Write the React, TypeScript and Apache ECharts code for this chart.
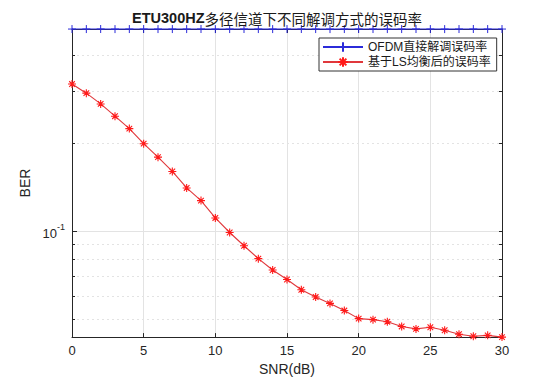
import React, { useEffect, useRef } from "react";
import * as echarts from "echarts";

const snr: number[] = Array.from({ length: 31 }, (_, i) => i);
const ofdmBer: number[] = [
  0.49, 0.49, 0.4902, 0.4898, 0.49, 0.4901, 0.4899, 0.49, 0.49, 0.4902, 0.4898,
  0.49, 0.4901, 0.49, 0.4899, 0.49, 0.4902, 0.49, 0.4898, 0.49, 0.4901,
  0.49, 0.4899, 0.49, 0.4901, 0.49, 0.4898, 0.49, 0.4902, 0.49, 0.49,
];
const lsBer: number[] = [
  0.318, 0.296, 0.272, 0.247, 0.224, 0.199, 0.179, 0.16, 0.1405, 0.1272,
  0.111, 0.099, 0.0892, 0.0806, 0.0737, 0.0684, 0.0631, 0.0596, 0.0567, 0.0536,
  0.0503, 0.0499, 0.0491, 0.0473, 0.0464, 0.047, 0.0459, 0.0445, 0.0438, 0.0441,
  0.0435,
];
const xTicks: number[] = [0, 5, 10, 15, 20, 25, 30];
const yMajor: number[] = [0.1];
const yMinor: number[] = [0.05, 0.06, 0.07, 0.08, 0.09, 0.2, 0.3, 0.4];
const titleLatin = "ETU300HZ";
const titleCjk = "多径信道下不同解调方式的误码率";
const seriesNames: string[] = ["OFDM直接解调误码率", "基于LS均衡后的误码率"];

const AXIS = "#262626";
const GRID = "#e3e3e3";
const FONT = "Liberation Sans, Arial, 'Noto Sans CJK SC', sans-serif";

export default function App() {
  const ref = useRef<HTMLDivElement>(null);
  useEffect(() => {
    if (!ref.current) return;
    const chart = echarts.init(ref.current, undefined, { renderer: "svg" });
    const yMin = Math.min(...lsBer, ...ofdmBer);
    const yMax = Math.max(...lsBer, ...ofdmBer);
    const xMin = snr[0];
    const xMax = snr[snr.length - 1];
    const plus = "path://M0,5L10,5M5,0L5,10";
    const star = "path://M5,0L5,10M0,5L10,5M1.5,1.5L8.5,8.5M8.5,1.5L1.5,8.5";
    const allY = [...yMinor, ...yMajor];
    chart.setOption({
      animation: false,
      backgroundColor: "#ffffff",
      textStyle: { fontFamily: FONT },
      title: {
        text: `{b|${titleLatin}}{n|${titleCjk}}`,
        left: "center",
        top: 6,
        textStyle: {
          rich: {
            b: { fontSize: 14.5, fontWeight: "bold", color: "#1a1a1a", fontFamily: FONT },
            n: { fontSize: 14.5, fontWeight: "normal", color: "#1a1a1a", fontFamily: "'Noto Sans CJK SC', sans-serif" },
          },
        },
      },
      legend: {
        orient: "vertical",
        left: 319,
        top: 38,
        itemWidth: 40,
        itemHeight: 12,
        itemGap: 3,
        padding: [3, 6, 3, 3],
        borderColor: "#333333",
        borderWidth: 1,
        backgroundColor: "#ffffff",
        textStyle: { fontSize: 12, color: "#1a1a1a", fontFamily: FONT },
        data: seriesNames,
      },
      grid: { left: 72, right: 52, top: 29, bottom: 42, containLabel: false },
      xAxis: [
        {
          type: "value",
          position: "bottom",
          min: xMin,
          max: xMax,
          interval: 5,
          name: "SNR(dB)",
          nameLocation: "middle",
          nameGap: 22,
          nameTextStyle: { fontSize: 14, color: AXIS, fontFamily: FONT },
          axisLine: { show: true, lineStyle: { color: AXIS, width: 1 } },
          axisTick: { show: true, inside: true, length: 4, lineStyle: { color: AXIS } },
          axisLabel: { fontSize: 13, color: AXIS, margin: 7, fontFamily: FONT, customValues: xTicks },
          splitLine: { show: true, lineStyle: { color: GRID, width: 1 } },
        },
        {
          type: "value",
          position: "top",
          min: xMin,
          max: xMax,
          interval: 5,
          axisLine: { show: true, lineStyle: { color: AXIS, width: 1 } },
          axisTick: { show: true, inside: true, length: 4, lineStyle: { color: AXIS } },
          axisLabel: { show: false },
          splitLine: { show: false },
        },
      ],
      yAxis: [
        {
          type: "log",
          logBase: 10,
          position: "left",
          min: yMin,
          max: yMax,
          name: "BER",
          nameLocation: "middle",
          nameGap: 36,
          nameTextStyle: { fontSize: 14, color: AXIS, fontFamily: FONT },
          axisLine: { show: true, lineStyle: { color: AXIS, width: 1 } },
          axisTick: { show: true, inside: true, length: 5, customValues: yMajor, lineStyle: { color: AXIS } },
          axisLabel: {
            show: true,
            customValues: yMajor,
            margin: 7,
            color: AXIS,
            formatter: (v: number) => `{b|10}{s|${Math.round(Math.log10(v))}}`,
            rich: {
              b: { fontSize: 13, color: AXIS, fontFamily: FONT, padding: [4, 0, 0, 0] },
              s: { fontSize: 9, color: AXIS, fontFamily: FONT, verticalAlign: "top", padding: [0, 0, 6, 0] },
            },
          },
          splitLine: { show: true, lineStyle: { color: GRID, width: 1 } },
        },
        {
          type: "log",
          logBase: 10,
          position: "left",
          min: yMin,
          max: yMax,
          axisLine: { show: false },
          axisTick: { show: true, inside: true, length: 3, customValues: yMinor, lineStyle: { color: AXIS } },
          axisLabel: { show: false },
          splitLine: { show: true, lineStyle: { color: GRID, width: 1, type: [2, 3] } },
        },
        {
          type: "log",
          logBase: 10,
          position: "right",
          min: yMin,
          max: yMax,
          axisLine: { show: true, lineStyle: { color: AXIS, width: 1 } },
          axisTick: { show: true, inside: true, length: 3, customValues: allY, lineStyle: { color: AXIS } },
          axisLabel: { show: false },
          splitLine: { show: false },
        },
      ],
      series: [
        {
          name: seriesNames[0],
          type: "line",
          xAxisIndex: 0,
          yAxisIndex: 0,
          data: snr.map((x, i) => [x, ofdmBer[i]]),
          clip: false,
          symbol: plus,
          symbolSize: 8,
          showSymbol: true,
          lineStyle: { color: "#2b2bd9", width: 1.1 },
          itemStyle: { color: "#2b2bd9", borderColor: "#2b2bd9", borderWidth: 1 },
          z: 5,
        },
        {
          name: seriesNames[1],
          type: "line",
          xAxisIndex: 0,
          yAxisIndex: 0,
          data: snr.map((x, i) => [x, lsBer[i]]),
          clip: false,
          symbol: star,
          symbolSize: 8,
          showSymbol: true,
          lineStyle: { color: "#e0383c", width: 1.1 },
          itemStyle: { color: "#ff0000", borderColor: "#ff1a1a", borderWidth: 1.1 },
          z: 4,
        },
      ],
    });
    return () => chart.dispose();
  }, []);
  return (
    <div
      ref={ref}
      style={{ position: "fixed", left: 0, top: 0, width: 554, height: 381, background: "#fff" }}
    />
  );
}
